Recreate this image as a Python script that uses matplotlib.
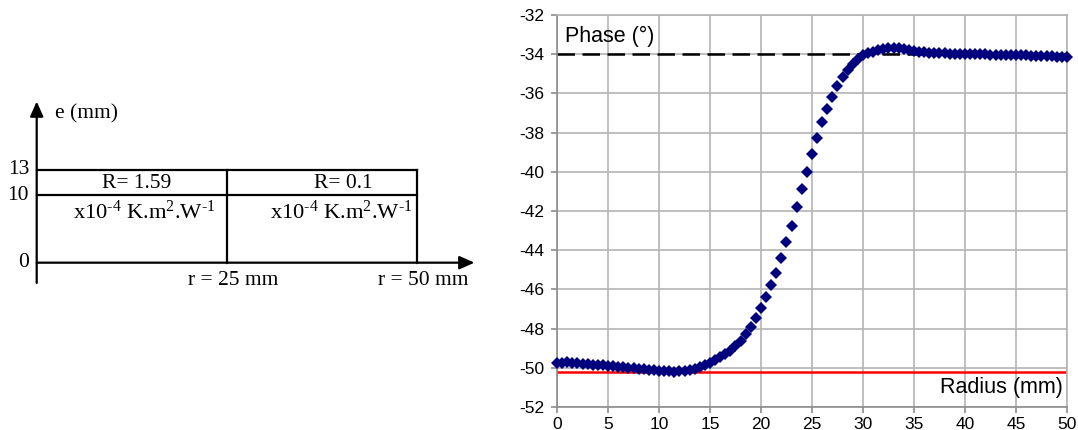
import numpy as np
import matplotlib
matplotlib.use('Agg')
import matplotlib.pyplot as plt

# ---- data ----
# sample positions along the radius (mm), one measurement every 0.5 mm
radius = np.arange(0, 50.5, 0.5)
phase = [-49.77, -49.74, -49.72, -49.75, -49.77, -49.79, -49.82, -49.84, -49.86, -49.88,
         -49.90, -49.92, -49.94, -49.96, -49.99, -50.02, -50.05, -50.07, -50.10, -50.12,
         -50.15, -50.17, -50.18, -50.19, -50.18, -50.16, -50.12, -50.06, -49.98, -49.88,
         -49.76, -49.62, -49.45, -49.28, -49.12, -48.88, -48.62, -48.30, -47.92, -47.48,
         -46.97, -46.40, -45.80, -45.18, -44.42, -43.60, -42.75, -41.82, -40.88, -40.02,
         -39.08, -38.28, -37.45, -36.78, -36.18, -35.64, -35.18, -34.80, -34.48, -34.24,
         -34.06, -33.95, -33.87, -33.80, -33.75, -33.70, -33.66, -33.68, -33.74, -33.79,
         -33.84, -33.87, -33.90, -33.92, -33.94, -33.95, -33.96, -33.97, -33.98, -33.99,
         -34.00, -34.00, -34.01, -34.01, -34.01, -34.02, -34.02, -34.03, -34.03, -34.04,
         -34.05, -34.06, -34.06, -34.07, -34.08, -34.09, -34.10, -34.11, -34.12, -34.14,
         -34.15]
phase_high = -34.0   # dashed reference
phase_low = -50.2    # red reference

xticks = list(range(0, 55, 5))
yticks = list(range(-52, -30, 2))

# sample geometry (left sketch)
r_edges = [0, 25, 50]
e_levels = [0, 10, 13]
resist = ['R= 1.59', 'R= 0.1']
unit_txt = r'x10$^{\text{-}4}$ K.m$^{2}$.W$^{\text{-}1}$'

plt.rcParams['mathtext.fontset'] = 'custom'
plt.rcParams['mathtext.rm'] = 'Liberation Serif'
plt.rcParams['mathtext.it'] = 'Liberation Serif'
plt.rcParams['axes.unicode_minus'] = False

fig = plt.figure(figsize=(10.78, 4.3), dpi=100)

# ---------------- left sketch ----------------
axl = fig.add_axes([0, 1 - 290 / 430, 480 / 1078, 200 / 430])
axl.set_xlim(-4.83, 58.33)
axl.set_ylim(-4.05, 25.6)
axl.axis('off')
serif = dict(family='Liberation Serif', fontsize=15.5, color='black')

# sketch is not to scale in e: 13 mm drawn a bit higher
e_draw = {0: 0, 10: 10, 13: 13.75}
lw = 1.6
# axes arrows
axl.annotate('', xy=(57.6, 0), xytext=(0, 0),
             arrowprops=dict(arrowstyle='-|>,head_length=0.9,head_width=0.4', lw=lw, color='black', shrinkA=0, shrinkB=0))
axl.annotate('', xy=(0, 23.9), xytext=(0, -3.0),
             arrowprops=dict(arrowstyle='-|>,head_length=0.9,head_width=0.4', lw=lw, color='black', shrinkA=0, shrinkB=0))
# layer boundaries
for e in e_levels[1:]:
    axl.plot([0, r_edges[-1]], [e_draw[e]] * 2, color='black', lw=lw)
for r in r_edges[1:]:
    axl.plot([r, r], [0, e_draw[13]], color='black', lw=lw)

for e in e_levels:
    axl.text(-1.0, e_draw[e], str(e), ha='right', va='center', **serif)
axl.text(2.4, 22.0, 'e (mm)', ha='left', va='center', **serif)

for i, lab in enumerate(resist):
    xc = [13.1, 40.3][i]
    axl.text(xc, 11.8, lab, ha='center', va='center', **serif)
    axl.text([14.1, 40.1][i], 7.5, unit_txt, ha='center', va='center',
             family='Liberation Serif', fontsize=16.2)
for r in r_edges[1:]:
    axl.text(r + 0.8, -1.2, 'r = %d mm' % r, ha='center', va='top', **serif)

# ---------------- right chart ----------------
ax = fig.add_axes([557 / 1078, 1 - 407 / 430, 510 / 1078, 392 / 430])
grid_c = '#b4b4b4'
ax.axhline(phase_high, color='black', lw=1.8, dashes=(7, 3), zorder=2)
ax.axhline(phase_low, color='#ff0000', lw=1.8, zorder=2)
ax.plot(radius, phase, 'D', color='#00007f', ms=5.8, mew=0, zorder=3, clip_on=False)

ax.set_xlim(0, 50)
ax.set_ylim(-52, -32)
ax.set_xticks(xticks)
ax.set_yticks(yticks)
ax.grid(True, color=grid_c, lw=1.2)
ax.set_axisbelow(True)
for s in ax.spines.values():
    s.set_color(grid_c)
    s.set_linewidth(1.2)
ax.spines['left'].set_color('#8c8c8c')
ax.spines['bottom'].set_color('#8c8c8c')
ax.tick_params(axis='both', colors='#8c8c8c', length=4, width=1.2, labelcolor='black',
               labelsize=12.5, labelfontfamily='Liberation Sans')
ax.tick_params(axis='y', pad=5)
ax.tick_params(axis='x', pad=3)

ax.text(0.016, 0.946, 'Phase (°)', transform=ax.transAxes, ha='left', va='center',
        family='Liberation Sans', fontsize=15.5)
ax.text(0.992, 0.05, 'Radius (mm)', transform=ax.transAxes, ha='right', va='center',
        family='Liberation Sans', fontsize=15.5)

fig.savefig('out.png', dpi=100)
